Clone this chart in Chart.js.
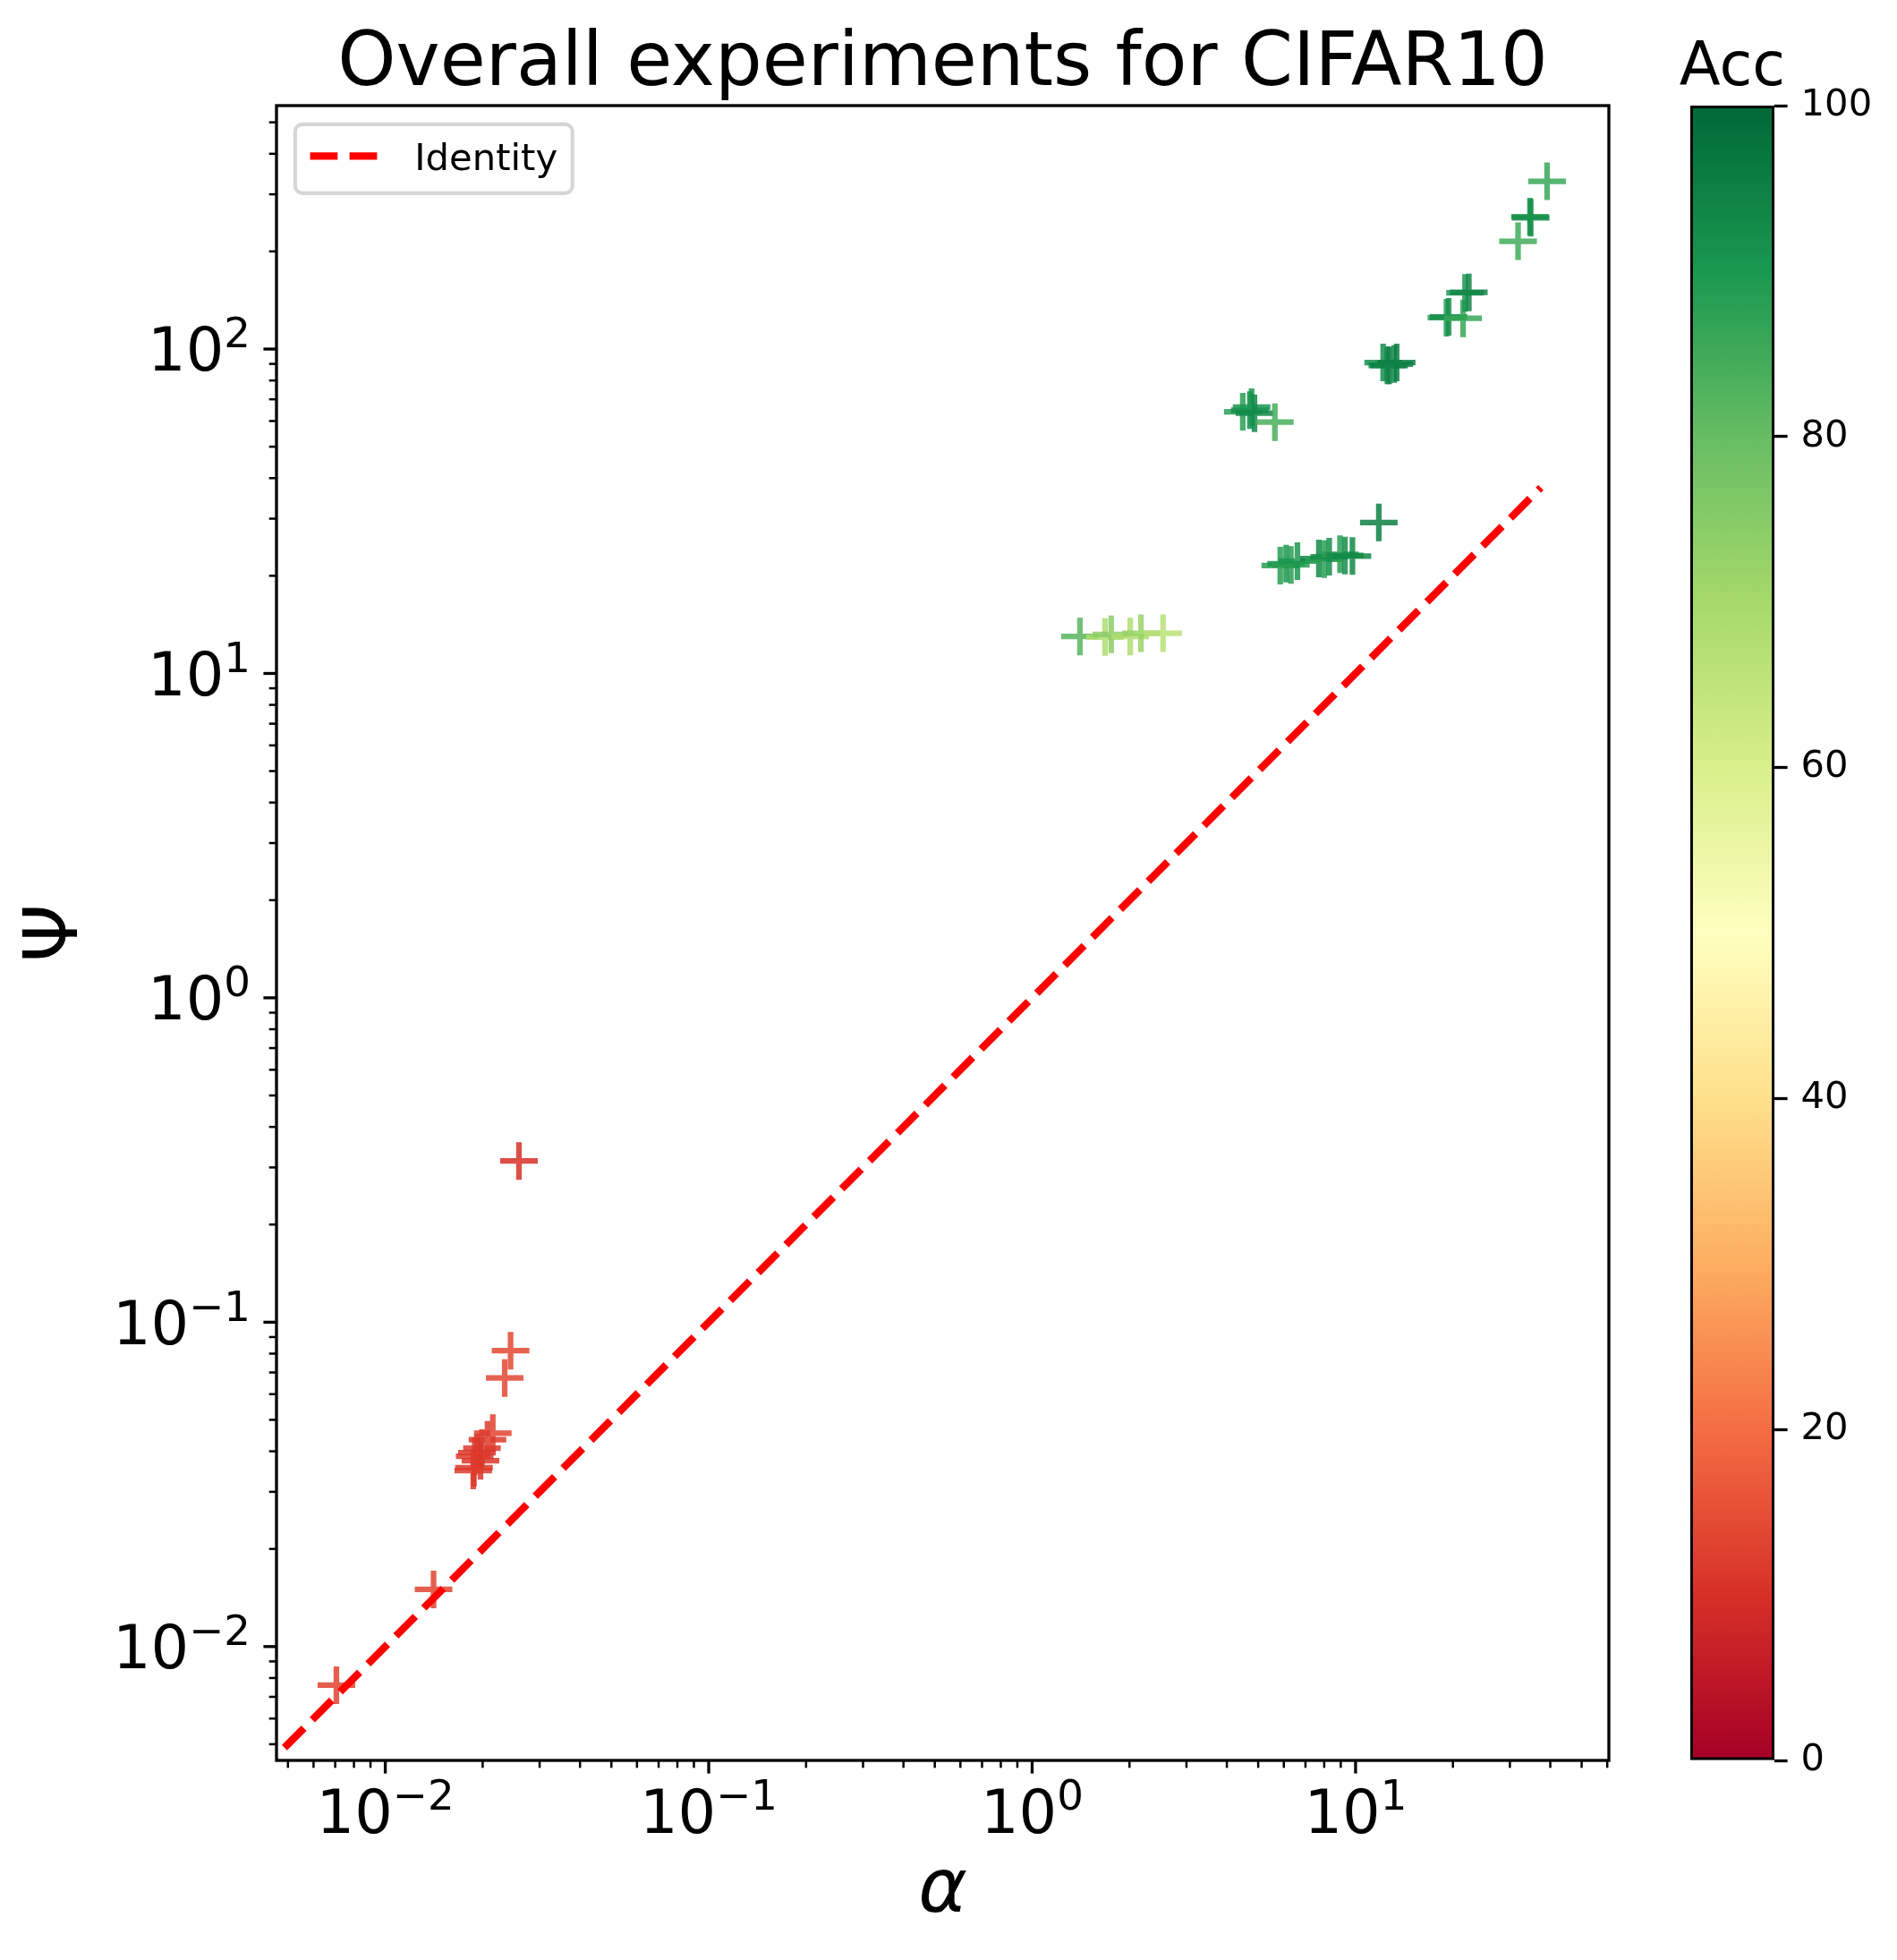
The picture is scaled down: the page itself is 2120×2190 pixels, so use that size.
<!DOCTYPE html>
<html>
<head>
<meta charset="utf-8">
<script src="https://cdn.jsdelivr.net/npm/chart.js@4.4.1/dist/chart.umd.min.js"></script>
<style>
  html, body { margin: 0; padding: 0; background: #fff; }
  #wrap { position: relative; width: 2120px; height: 2190px; }
  #main { position: absolute; left: 0; top: 0; width: 2120px; height: 2190px; }
  #cbar { position: absolute; left: 1850px; top: 0; width: 270px; height: 2190px; }
</style>
</head>
<body>
<div id="wrap">
  <canvas id="main" width="2120" height="2190"></canvas>
  <canvas id="cbar" width="270" height="2190"></canvas>
</div>
<script>
// values
const alphaVals = [0.0259, 0.0244, 0.0234, 0.0215, 0.0207, 0.0199, 0.0192, 0.0189, 0.0197, 0.0188, 0.0187, 0.0141, 0.00706,
  1.405, 1.68, 1.756, 2.01, 2.17, 2.54,
  5.85, 6.10, 6.31, 6.61, 7.70, 8.0, 8.29, 8.95, 9.27, 9.78, 11.8,
  4.48, 4.71, 4.77, 4.87, 5.63,
  12.17, 12.54, 12.7, 13.17, 13.4,
  19.1, 19.4, 21.5, 21.8, 22.4,
  31.8, 34.6, 34.8, 39.1];
const psiVals = [0.314, 0.0817, 0.0673, 0.0455, 0.0434, 0.0409, 0.0396, 0.0386, 0.0374, 0.0356, 0.0349, 0.0150, 0.0076,
  13.0, 12.95, 13.2, 13.0, 13.3, 13.3,
  21.5, 21.8, 21.6, 22.2, 22.6, 22.5, 22.9, 23.3, 23.1, 23.0, 29.2,
  64.1, 64.8, 66.2, 63.4, 59.5,
  90.9, 89.0, 89.0, 89.9, 90.9,
  125, 125.7, 124.4, 149, 149.5,
  215, 256, 254, 329];
const accVals = [10, 14, 14, 13, 12, 12, 11, 12, 11, 11, 12, 13, 13,
  82, 68, 74, 68, 72, 66,
  88, 90, 88, 90, 93, 88, 92, 88, 92, 93, 95,
  88, 92, 90, 93, 84,
  92, 94, 95, 93, 95,
  88, 92, 86, 90, 94,
  85, 88, 92, 86];
const identityX = [0.004, 37.4];
const identityY = [0.004, 37.4];

const xMajorTicks = [0.01, 0.1, 1, 10];
const xTickLabels = ['10^\u22122', '10^\u22121', '10^0', '10^1'];
const yMajorTicks = [0.01, 0.1, 1, 10, 100];
const yTickLabels = ['10^\u22122', '10^\u22121', '10^0', '10^1', '10^2'];
const cbTicks = [0, 20, 40, 60, 80, 100];

// RdYlGn colormap
const rdylgn = ['#a50026', '#d73027', '#f46d43', '#fdae61', '#fee08b', '#ffffbf',
  '#d9ef8b', '#a6d96a', '#66bd63', '#1a9850', '#006837'];
const FAM = "'DejaVu Sans'";

function hexRgb(h) {
  return [parseInt(h.slice(1, 3), 16), parseInt(h.slice(3, 5), 16), parseInt(h.slice(5, 7), 16)];
}
function accColor(acc, a) {
  let t = Math.max(0, Math.min(1, acc / 100)) * 10;
  let i = Math.min(9, Math.floor(t));
  let f = t - i;
  let c0 = hexRgb(rdylgn[i]), c1 = hexRgb(rdylgn[i + 1]);
  let c = c0.map((v, k) => Math.round(v + (c1[k] - v) * f));
  return 'rgba(' + c[0] + ',' + c[1] + ',' + c[2] + ',' + a + ')';
}

function logTicks(scale) {
  const out = [];
  for (let e = -3; e <= 3; e++) {
    for (let m = 1; m <= 9; m++) {
      const v = m * Math.pow(10, e);
      if (v >= scale.min && v <= scale.max) out.push({ value: v, major: m === 1 });
    }
  }
  scale.ticks = out;
}

function drawPow(ctx, label, x, baseY, align) {
  const parts = label.split('^');
  ctx.font = '67px ' + FAM;
  const wb = ctx.measureText(parts[0]).width;
  ctx.font = '46.7px ' + FAM;
  const we = ctx.measureText(parts[1]).width;
  const x0 = align === 'center' ? x - (wb + we) / 2 : x - (wb + we);
  ctx.textAlign = 'left';
  ctx.textBaseline = 'alphabetic';
  ctx.fillStyle = '#000';
  ctx.font = '67px ' + FAM;
  ctx.fillText(parts[0], x0, baseY);
  ctx.font = '46.7px ' + FAM;
  ctx.fillText(parts[1], x0 + wb, baseY - 26);
}

const mplAxes = {
  id: 'mplAxes',
  afterDatasetsDraw(chart) {
    const { ctx, chartArea: a, scales: { x, y } } = chart;
    ctx.save();
    ctx.strokeStyle = '#000';
    for (const t of x.ticks) {
      const px = x.getPixelForValue(t.value);
      ctx.lineWidth = t.major ? 3.3 : 2.5;
      ctx.beginPath();
      ctx.moveTo(px, a.bottom);
      ctx.lineTo(px, a.bottom + (t.major ? 14.6 : 8.3));
      ctx.stroke();
    }
    for (const t of y.ticks) {
      const py = y.getPixelForValue(t.value);
      ctx.lineWidth = t.major ? 3.3 : 2.5;
      ctx.beginPath();
      ctx.moveTo(a.left, py);
      ctx.lineTo(a.left - (t.major ? 14.6 : 8.3), py);
      ctx.stroke();
    }
    ctx.lineWidth = 3.33;
    ctx.strokeRect(a.left, a.top, a.right - a.left, a.bottom - a.top);

    xMajorTicks.forEach((v, i) => drawPow(ctx, xTickLabels[i], x.getPixelForValue(v), a.bottom + 81, 'center'));
    yMajorTicks.forEach((v, i) => drawPow(ctx, yTickLabels[i], a.left - 29, y.getPixelForValue(v) + 24.4, 'right'));

    // title
    ctx.fillStyle = '#000';
    ctx.font = '83px ' + FAM;
    ctx.textAlign = 'center';
    ctx.textBaseline = 'alphabetic';
    ctx.fillText('Overall experiments for CIFAR10', (a.left + a.right) / 2, 95);

    // legend
    const ds = chart.data.datasets[0];
    const lx = a.left + 20.8, ly = a.top + 20.8, lw = 310, lh = 77;
    ctx.beginPath();
    ctx.roundRect(lx, ly, lw, lh, 8.3);
    ctx.fillStyle = 'rgba(255,255,255,0.8)';
    ctx.fill();
    ctx.lineWidth = 4.17;
    ctx.strokeStyle = 'rgba(204,204,204,0.8)';
    ctx.stroke();
    ctx.beginPath();
    ctx.setLineDash(ds.borderDash);
    ctx.lineWidth = ds.borderWidth;
    ctx.strokeStyle = ds.borderColor;
    ctx.moveTo(lx + 16.7, ly + 35.5);
    ctx.lineTo(lx + 16.7 + 83.4, ly + 35.5);
    ctx.stroke();
    ctx.setLineDash([]);
    ctx.fillStyle = '#000';
    ctx.font = '41.7px ' + FAM;
    ctx.textAlign = 'left';
    ctx.fillText(ds.label, lx + 16.7 + 83.4 + 33.4, ly + 51);
    ctx.restore();
  }
};

new Chart(document.getElementById('main'), {
  type: 'scatter',
  data: {
    datasets: [
      {
        type: 'line',
        label: 'Identity',
        data: identityX.map((v, i) => ({ x: v, y: identityY[i] })),
        borderColor: '#ff0000',
        borderWidth: 8.33,
        borderDash: [30.8, 13.3],
        pointRadius: 0,
        fill: false,
        clip: 0
      },
      {
        label: 'runs',
        data: alphaVals.map((v, i) => ({ x: v, y: psiVals[i] })),
        pointStyle: 'cross',
        pointRadius: 21,
        pointHoverRadius: 21,
        pointBorderWidth: 6.25,
        pointBorderColor: accVals.map(v => accColor(v, 0.85)),
        showLine: false
      }
    ]
  },
  options: {
    responsive: false,
    devicePixelRatio: 1,
    animation: false,
    events: [],
    layout: { padding: { left: 0, top: 118, right: 322, bottom: 0 } },
    plugins: { legend: { display: false }, tooltip: { enabled: false }, title: { display: false } },
    scales: {
      x: {
        type: 'logarithmic', min: 0.004609, max: 60.7,
        afterBuildTicks: logTicks,
        afterFit: s => { s.height = 223; },
        ticks: { display: false },
        grid: { display: false },
        border: { display: false },
        title: { display: true, text: 'α', color: '#000', font: { family: FAM, size: 83, style: 'italic' }, padding: { top: 0, bottom: 26 } }
      },
      y: {
        type: 'logarithmic', min: 0.004457, max: 563,
        afterBuildTicks: logTicks,
        afterFit: s => { s.width = 309; },
        ticks: { display: false },
        grid: { display: false },
        border: { display: false },
        title: { display: true, text: 'Ψ', color: '#000', font: { family: FAM, size: 83 }, padding: { top: 15, bottom: 0 } }
      }
    }
  },
  plugins: [mplAxes]
});

const cbLabel = {
  id: 'cbLabel',
  afterDraw(chart) {
    const { ctx, chartArea: a } = chart;
    ctx.save();
    ctx.fillStyle = '#000';
    ctx.font = '67px ' + FAM;
    ctx.textAlign = 'center';
    ctx.textBaseline = 'alphabetic';
    ctx.fillText('Acc', (a.left + a.right) / 2, 95);
    ctx.restore();
  }
};

new Chart(document.getElementById('cbar'), {
  type: 'bar',
  data: {
    labels: ['Acc'],
    datasets: [{
      data: [[0, 100]],
      backgroundColor: c => {
        const ch = c.chart;
        if (!ch.chartArea) return null;
        const ys = ch.scales.y;
        const g = ch.ctx.createLinearGradient(0, ys.getPixelForValue(0), 0, ys.getPixelForValue(100));
        rdylgn.forEach((col, i) => g.addColorStop(i / 10, col));
        return g;
      },
      borderColor: '#000',
      borderWidth: 3.3,
      borderSkipped: false,
      barPercentage: 1,
      categoryPercentage: 1
    }]
  },
  options: {
    responsive: false,
    devicePixelRatio: 1,
    animation: false,
    events: [],
    layout: { padding: { left: 39, top: 118, right: 0, bottom: 223 } },
    plugins: { legend: { display: false }, tooltip: { enabled: false } },
    scales: {
      x: { display: false },
      y: {
        position: 'right', min: 0, max: 100,
        afterBuildTicks: s => { s.ticks = cbTicks.map(v => ({ value: v })); },
        afterFit: s => { s.width = 137; },
        ticks: { color: '#000', font: { family: FAM, size: 41.7 }, padding: 15 },
        grid: { drawOnChartArea: false, drawTicks: true, tickLength: 14.6, tickWidth: 3.3, tickColor: '#000' },
        border: { display: false }
      }
    }
  },
  plugins: [cbLabel]
});
</script>
</body>
</html>
